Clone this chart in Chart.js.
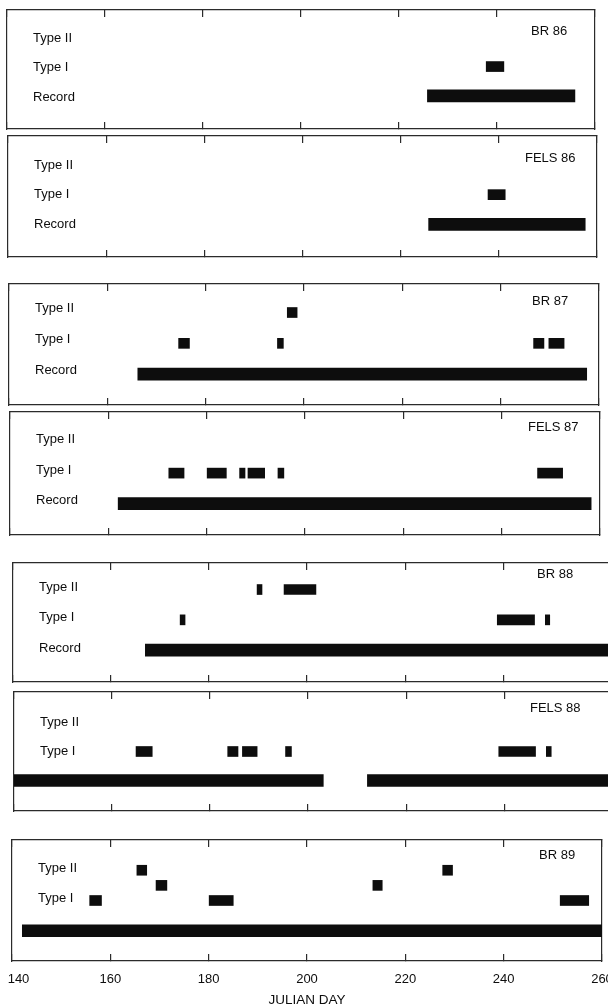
<!DOCTYPE html>
<html>
<head>
<meta charset="utf-8">
<script src="https://cdn.jsdelivr.net/npm/chart.js@4.4.1/dist/chart.umd.min.js"></script>
<style>
  html, body { margin: 0; padding: 0; background: #ffffff; overflow: hidden; width: 608px; height: 1008px; }
  #fig { position: relative; width: 608px; height: 1008px; overflow: hidden; }
  .panel { position: absolute; }
</style>
</head>
<body>
<div id="fig"></div>
<script>
// ---- Julian day axis ----
const dayMin = 140;
const dayMax = 260;
const dayStep = 20;
const axisTitle = 'JULIAN DAY';

// ---- row names (y values of the activity rows) ----
const rowNames = { 4: 'Type II', 2: 'Type I', 0: 'Record' };

// ---- observation windows, [first day, last day] ----
// BR 86
const br86Record = [[225.8, 255.9]];
const br86TypeI  = [[237.8, 241.4]];
const br86TypeII = [];
// FELS 86
const fels86Record = [[225.7, 257.6]];
const fels86TypeI  = [[237.8, 241.3]];
const fels86TypeII = [];
// BR 87
const br87Record = [[166.2, 257.5]];
const br87TypeI  = [[174.5, 176.7], [194.6, 195.8], [246.7, 248.8], [249.8, 252.9]];
const br87TypeII = [[196.6, 198.6]];
// FELS 87
const fels87Record = [[162.0, 258.2]];
const fels87TypeI  = [[172.3, 175.4], [180.1, 184.0], [186.7, 187.8], [188.4, 191.8], [194.5, 195.7], [247.3, 252.4]];
const fels87TypeII = [];
// BR 88
const br88Record = [[167.0, 263.0]];
const br88TypeI  = [[174.1, 175.1], [238.8, 246.4], [248.6, 249.5]];
const br88TypeII = [[189.8, 190.8], [195.3, 201.8]];
// FELS 88
const fels88Record = [[138.0, 203.1], [212.1, 263.0]];
const fels88TypeI  = [[164.9, 168.2], [183.6, 185.7], [186.6, 189.6], [195.4, 196.6], [238.9, 246.4], [248.6, 249.6]];
const fels88TypeII = [];
// BR 89
const br89Record = [[142.1, 263.0]];
const br89TypeI  = [[155.8, 158.2], [180.1, 185.0], [251.5, 257.3]];
const br89Mixed  = [[169.3, 171.5], [213.4, 215.3]];
const br89TypeII = [[165.4, 167.4], [227.6, 229.6]];

const panels = [
  { tag: 'BR 86',   record: br86Record,   typeI: br86TypeI,   typeII: br86TypeII,   mixed: [],        rows: [4, 2, 0] },
  { tag: 'FELS 86', record: fels86Record, typeI: fels86TypeI, typeII: fels86TypeII, mixed: [],        rows: [4, 2, 0] },
  { tag: 'BR 87',   record: br87Record,   typeI: br87TypeI,   typeII: br87TypeII,   mixed: [],        rows: [4, 2, 0] },
  { tag: 'FELS 87', record: fels87Record, typeI: fels87TypeI, typeII: fels87TypeII, mixed: [],        rows: [4, 2, 0] },
  { tag: 'BR 88',   record: br88Record,   typeI: br88TypeI,   typeII: br88TypeII,   mixed: [],        rows: [4, 2, 0] },
  { tag: 'FELS 88', record: fels88Record, typeI: fels88TypeI, typeII: fels88TypeII, mixed: [],        rows: [4, 2] },
  { tag: 'BR 89',   record: br89Record,   typeI: br89TypeI,   typeII: br89TypeII,   mixed: br89Mixed, rows: [4, 2] }
];

// ---- page layout of each framed panel: frame [left, top, right, bottom], day range shown, y range, label shift, tag spot ----
// (the two 1988 frames run on past the right page edge)
const frames = [
  { box: [7, 10, 595, 129],   xr: [140, 260], yr: [-2.25, 5.85], shift: 1,  tagAt: [531, 31] },
  { box: [8, 136, 597, 257],  xr: [140, 260], yr: [-2.2, 5.95],  shift: 0,  tagAt: [525, 158] },
  { box: [9, 284, 599, 405],  xr: [140, 260], yr: [-2.0, 5.85],  shift: -4, tagAt: [532, 301] },
  { box: [10, 412, 600, 535], xr: [140, 260], yr: [-2.05, 6.0],  shift: -3, tagAt: [528, 427] },
  { box: [13, 563, 611, 682], xr: [140, 262], yr: [-2.1, 5.75],  shift: -2, tagAt: [537, 574] },
  { box: [14, 692, 612, 811], xr: [140, 262], yr: [-2.1, 6.1],   shift: 0,  tagAt: [530, 708] },
  { box: [12, 840, 602, 961], xr: [140, 260], yr: [-2.0, 6.0],   shift: -2, tagAt: [539, 855] }
];

const FONT = "'Liberation Sans', Arial, Helvetica, sans-serif";
const INK = '#0d0d0d';
const FRAME = '#2b2b2b';
Chart.defaults.font.family = FONT;
Chart.defaults.font.size = 13;
Chart.defaults.color = INK;

// station name written in the upper right corner of each frame
const stationTag = {
  id: 'stationTag',
  afterDraw(chart, args, opts) {
    const { ctx, chartArea } = chart;
    ctx.save();
    ctx.font = '13px ' + FONT;
    ctx.fillStyle = INK;
    ctx.textAlign = 'left';
    ctx.textBaseline = 'middle';
    ctx.fillText(opts.text, chartArea.left + opts.dx, chartArea.top + opts.dy);
    ctx.restore();
  }
};

function zeroPad(scale) {
  scale.paddingLeft = 0; scale.paddingRight = 0; scale.paddingTop = 0; scale.paddingBottom = 0;
}

// the first day label sits a little inside the frame corner
function dayLabel(v) {
  return v === dayMin ? '\u2003' + v : String(v);
}

// ticks every 20 days; frames that run past day 260 get no mark there
function dayTicks(s) {
  const t = [];
  for (let d = dayMin; d <= dayMax; d += dayStep) {
    if (d === dayMax && s.max > dayMax) continue;
    t.push({ value: d });
  }
  s.ticks = t;
}

function rowSet(label, spans, yValue, thickness) {
  return {
    label: label,
    data: spans.map(s => ({ x: s, y: yValue })),
    backgroundColor: INK,
    borderWidth: 0,
    barThickness: thickness,
    grouped: false,
    xAxisID: 'x',
    yAxisID: 'y'
  };
}

const fig = document.getElementById('fig');

panels.forEach((p, i) => {
  const f = frames[i];
  const last = i === panels.length - 1;
  const [L, T, R, B] = f.box;
  const pad = { left: last ? 12 : 3, right: last ? 12 : 3, top: 3, bottom: last ? 0 : 3 };
  const axisH = last ? 47 : 0;

  const holder = document.createElement('div');
  holder.className = 'panel';
  holder.style.left = (L - pad.left) + 'px';
  holder.style.top = (T - pad.top) + 'px';
  holder.style.width = (R - L + pad.left + pad.right) + 'px';
  holder.style.height = (B - T + pad.top + pad.bottom + axisH) + 'px';
  const canvas = document.createElement('canvas');
  holder.appendChild(canvas);
  fig.appendChild(holder);

  const datasets = [
    rowSet('Record', p.record, 0, 12),
    rowSet('Type I', p.typeI, 2, 10),
    rowSet('Type I/II', p.mixed, 3, 10),
    rowSet('Type II', p.typeII, 4, 10)
  ];

  const innerTicks = { drawOnChartArea: false, drawTicks: true, tickLength: -7, color: FRAME, lineWidth: 1.2 };
  const frameLine = { display: true, color: FRAME, width: 1.2 };

  new Chart(canvas, {
    type: 'bar',
    data: { datasets: datasets },
    plugins: [stationTag],
    options: {
      responsive: true,
      maintainAspectRatio: false,
      animation: false,
      indexAxis: 'y',
      layout: { padding: pad },
      plugins: {
        legend: { display: false },
        tooltip: { enabled: false },
        stationTag: { text: p.tag, dx: f.tagAt[0] - L, dy: f.tagAt[1] - T }
      },
      scales: {
        x: {
          type: 'linear', position: 'bottom', min: f.xr[0], max: f.xr[1],
          ticks: { display: last, padding: 18, maxRotation: 0, autoSkip: false,
                   color: INK, font: { size: 13 }, callback: dayLabel },
          afterBuildTicks: dayTicks,
          grid: innerTicks,
          border: frameLine,
          title: { display: last, text: axisTitle, color: INK, font: { size: 13.5 }, padding: { top: 0, bottom: 0 } },
          afterFit: s => { s.height = axisH; zeroPad(s); }
        },
        xTop: {
          type: 'linear', position: 'top', min: f.xr[0], max: f.xr[1],
          ticks: { display: false },
          afterBuildTicks: dayTicks,
          grid: innerTicks,
          border: frameLine,
          afterFit: s => { s.height = 0; zeroPad(s); }
        },
        y: {
          type: 'linear', position: 'left', min: f.yr[0], max: f.yr[1], offset: false,
          grid: { display: false },
          border: frameLine,
          ticks: { mirror: true, padding: 26, labelOffset: f.shift, color: INK, font: { size: 13 },
                   callback: v => rowNames[v] || '' },
          afterBuildTicks: s => { s.ticks = p.rows.map(v => ({ value: v })); },
          afterFit: s => { s.width = 0; zeroPad(s); }
        },
        yRight: {
          type: 'linear', position: 'right', min: f.yr[0], max: f.yr[1], offset: false,
          grid: { display: false },
          border: frameLine,
          ticks: { display: false },
          afterFit: s => { s.width = 0; zeroPad(s); }
        }
      }
    }
  });
});
</script>
</body>
</html>
